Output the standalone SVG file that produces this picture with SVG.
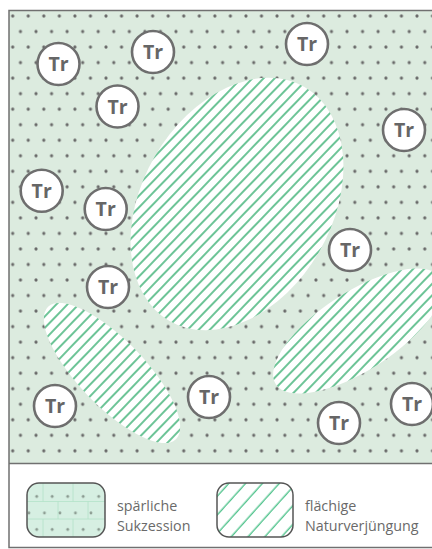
<svg xmlns="http://www.w3.org/2000/svg" width="432" height="549" viewBox="0 0 432 549">
<style>
.tr circle{fill:#fff;stroke:#6e6e6e;stroke-width:2.6}
.tr text{font-family:"Open Sans","Noto Sans",sans-serif;font-weight:bold;font-size:19.5px;fill:#666;text-anchor:middle}
.lg{font-family:"Open Sans","Noto Sans",sans-serif;font-size:14.3px;fill:#6a6a6a}
.frame{fill:none;stroke:#707070;stroke-width:1.5}
</style>
<defs>
<pattern id="dots" patternUnits="userSpaceOnUse" x="4.925" y="8.235" width="15.55" height="31.06">
<circle cx="7.775" cy="7.765" r="1.6" fill="#696969"/>
<circle cx="0" cy="23.295" r="1.6" fill="#696969"/>
<circle cx="15.55" cy="23.295" r="1.6" fill="#696969"/>
</pattern>
<pattern id="hatch" patternUnits="userSpaceOnUse" width="8" height="8" patternTransform="rotate(-46)">
<rect width="8" height="8" fill="#fff"/>
<line x1="0" y1="4" x2="8" y2="4" stroke="#00984a" stroke-width="1.15"/>
</pattern>
<pattern id="hatchL" patternUnits="userSpaceOnUse" width="12.5" height="12.5" patternTransform="rotate(-48)">
<rect width="12.5" height="12.5" fill="#fff"/>
<line x1="0" y1="6" x2="12.5" y2="6" stroke="#45bf85" stroke-width="1.3"/>
</pattern>
<pattern id="dotsL" patternUnits="userSpaceOnUse" x="28.95" y="488.25" width="15.5" height="33">
<circle cx="7.75" cy="8.25" r="1.4" fill="#8a9a90"/>
<circle cx="0" cy="24.75" r="1.4" fill="#8a9a90"/>
<circle cx="15.5" cy="24.75" r="1.4" fill="#8a9a90"/>
</pattern>
<clipPath id="mapclip"><rect x="9" y="10.5" width="430" height="453"/></clipPath>
<clipPath id="clipBig"><ellipse cx="237" cy="204" rx="135" ry="95" transform="rotate(-60 237 204)"/></clipPath>
<clipPath id="clipRight"><ellipse cx="358" cy="331" rx="98" ry="39" transform="rotate(-33 358 331)"/></clipPath>
<clipPath id="clipLeft"><ellipse cx="112" cy="373" rx="92" ry="33" transform="rotate(46 112 373)"/></clipPath>
<clipPath id="lg1clip"><rect x="27" y="483" width="78" height="54" rx="12"/></clipPath>
</defs>
<rect width="432" height="549" fill="#fff"/>
<g id="map" clip-path="url(#mapclip)">
<rect x="9" y="10.5" width="430" height="453" fill="#dcebdf"/>
<rect x="9" y="10.5" width="430" height="453" fill="url(#dots)"/>
<g id="area-big" clip-path="url(#clipBig)"><rect x="90" y="60" width="300" height="300" fill="url(#hatch)"/></g>
<g id="area-right" clip-path="url(#clipRight)"><rect x="250" y="250" width="200" height="160" fill="url(#hatch)"/></g>
<g id="area-left" clip-path="url(#clipLeft)"><rect x="30" y="290" width="170" height="170" fill="url(#hatch)"/></g>
</g>
<g id="trees">
<g id="tr1" class="tr"><circle cx="58.5" cy="64" r="21"/><text x="58.5" y="71">Tr</text></g>
<g id="tr2" class="tr"><circle cx="153" cy="52" r="21"/><text x="153" y="59">Tr</text></g>
<g id="tr3" class="tr"><circle cx="307" cy="44" r="21"/><text x="307" y="51">Tr</text></g>
<g id="tr4" class="tr"><circle cx="117.5" cy="106.5" r="21"/><text x="117.5" y="113.5">Tr</text></g>
<g id="tr5" class="tr"><circle cx="404" cy="130" r="21"/><text x="404" y="137">Tr</text></g>
<g id="tr6" class="tr"><circle cx="41.7" cy="190.7" r="21"/><text x="41.7" y="197.7">Tr</text></g>
<g id="tr7" class="tr"><circle cx="105.7" cy="209" r="21"/><text x="105.7" y="216">Tr</text></g>
<g id="tr8" class="tr"><circle cx="350" cy="250" r="21"/><text x="350" y="257">Tr</text></g>
<g id="tr9" class="tr"><circle cx="108" cy="287" r="21"/><text x="108" y="294">Tr</text></g>
<g id="tr10" class="tr"><circle cx="55" cy="406" r="21"/><text x="55" y="413">Tr</text></g>
<g id="tr11" class="tr"><circle cx="209" cy="397" r="21"/><text x="209" y="404">Tr</text></g>
<g id="tr12" class="tr"><circle cx="339" cy="423" r="21"/><text x="339" y="430">Tr</text></g>
<g id="tr13" class="tr"><circle cx="412" cy="404" r="21"/><text x="412" y="411">Tr</text></g>
</g>
<g id="connectors"/>
<g id="frame">
<rect class="frame" x="9" y="10.5" width="430" height="537"/>
<line class="frame" x1="9" y1="463.5" x2="432" y2="463.5"/>
</g>
<g id="legend-sparse">
<g clip-path="url(#lg1clip)">
<rect x="27" y="483" width="78" height="54" fill="#d6efe2"/>
<g stroke="#b3e2c9" stroke-width="0.8">
<line x1="27" y1="501.5" x2="105" y2="501.5"/>
<line x1="27" y1="519" x2="105" y2="519"/>
<line x1="43" y1="483" x2="43" y2="501.5"/>
<line x1="73" y1="483" x2="73" y2="501.5"/>
<line x1="58" y1="501.5" x2="58" y2="519"/>
<line x1="88" y1="501.5" x2="88" y2="519"/>
<line x1="43" y1="519" x2="43" y2="537"/>
<line x1="73" y1="519" x2="73" y2="537"/>
</g>
<rect x="27" y="483" width="78" height="54" fill="url(#dotsL)"/>
</g>
<rect x="27" y="483" width="78" height="54" rx="12" fill="none" stroke="#555" stroke-width="1.5"/>
<text class="lg" x="117" y="511">spärliche</text>
<text class="lg" x="117" y="531">Sukzession</text>
</g>
<g id="legend-dense">
<rect x="217" y="483" width="76" height="54" rx="12" fill="url(#hatchL)" stroke="#555" stroke-width="1.5"/>
<text class="lg" x="305" y="511">flächige</text>
<text class="lg" x="305" y="531">Naturverjüngung</text>
</g>
</svg>
